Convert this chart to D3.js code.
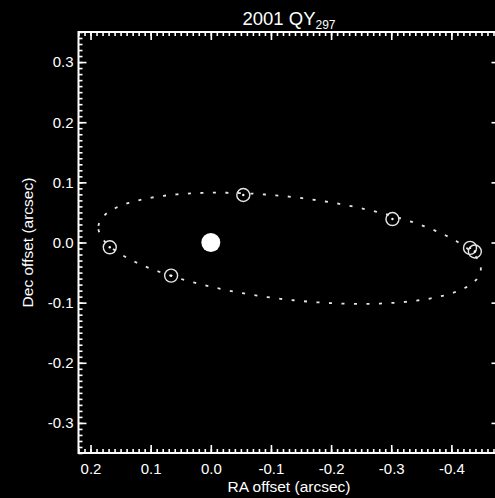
<!DOCTYPE html>
<html>
<head>
<meta charset="utf-8">
<script src="https://cdn.jsdelivr.net/npm/d3@7"></script>
<style>
  html, body { margin: 0; padding: 0; background: #000; }
  svg { display: block; }
  text { font-family: "Liberation Sans", Arial, Helvetica, sans-serif; fill: #fff; }
</style>
</head>
<body>
<svg id="chart" width="495" height="498"></svg>
<script>
// Relative astrometry of the binary 2001 QY297: secondary positions around the primary
const xTicks = [0.2, 0.1, 0.0, -0.1, -0.2, -0.3, -0.4];
const xTickLabels = ["0.2", "0.1", "0.0", "-0.1", "-0.2", "-0.3", "-0.4"];
const yTicks = [-0.3, -0.2, -0.1, 0.0, 0.1, 0.2, 0.3];
const yTickLabels = ["-0.3", "-0.2", "-0.1", "0.0", "0.1", "0.2", "0.3"];

// Observed secondary offsets (arcsec)
const raOffsets  = [0.168, 0.066, -0.054, -0.302, -0.431, -0.439];
const decOffsets = [-0.008, -0.055, 0.079, 0.039, -0.009, -0.015];

// Primary position
const primary = [0.0, 0.0];

// Projected orbit ellipse: centre (RA, Dec), semi-axes (arcsec), tilt (deg)
const orbitCenter = [-0.131, -0.0096];
const orbitSemiAxes = [0.320, 0.0852];
const orbitTilt = 6.67;

const svg = d3.select("#chart");
svg.append("rect").attr("width", 495).attr("height", 498).attr("fill", "#000");

const plotLeft = 78.5, plotRight = 499.5, plotTop = 32, plotBottom = 453;
const x = d3.scaleLinear().domain([0.22, -0.48]).range([plotLeft, plotRight]);
const y = d3.scaleLinear().domain([-0.35, 0.35]).range([plotBottom, plotTop]);

const minorX = d3.range(-48, 23).map(d => d / 100);
const minorY = d3.range(-35, 36).map(d => d / 100);

function styleAxis(g) {
  g.select(".domain").remove();
  g.selectAll(".tick line").attr("stroke", "#fff").attr("stroke-width", 1.6);
  g.selectAll(".tick text")
    .attr("fill", "#fff")
    .style("font-size", "15px")
    .style("font-family", "'Liberation Sans', Arial, Helvetica, sans-serif");
}

// minor ticks on all four sides
svg.append("g").attr("transform", `translate(0,${plotBottom})`)
  .call(d3.axisBottom(x).tickValues(minorX).tickSize(-4).tickFormat(""))
  .call(styleAxis);
svg.append("g").attr("transform", `translate(0,${plotTop})`)
  .call(d3.axisTop(x).tickValues(minorX).tickSize(-4).tickFormat(""))
  .call(styleAxis);
svg.append("g").attr("transform", `translate(${plotLeft},0)`)
  .call(d3.axisLeft(y).tickValues(minorY).tickSize(-4).tickFormat(""))
  .call(styleAxis);
svg.append("g").attr("transform", `translate(${plotRight},0)`)
  .call(d3.axisRight(y).tickValues(minorY).tickSize(-4).tickFormat(""))
  .call(styleAxis);

// major ticks
svg.append("g").attr("transform", `translate(0,${plotBottom})`)
  .call(d3.axisBottom(x).tickValues(xTicks).tickSize(-8).tickPadding(10.5)
    .tickFormat((d, i) => xTickLabels[i]))
  .call(styleAxis);
svg.append("g").attr("transform", `translate(0,${plotTop})`)
  .call(d3.axisTop(x).tickValues(xTicks).tickSize(-8).tickFormat(""))
  .call(styleAxis);
svg.append("g").attr("transform", `translate(${plotLeft},0)`)
  .call(d3.axisLeft(y).tickValues(yTicks).tickSize(-8).tickPadding(5)
    .tickFormat((d, i) => yTickLabels[i]))
  .call(styleAxis);
svg.append("g").attr("transform", `translate(${plotRight},0)`)
  .call(d3.axisRight(y).tickValues(yTicks).tickSize(-8).tickFormat(""))
  .call(styleAxis);

// plot frame
svg.append("rect")
  .attr("x", plotLeft).attr("y", plotTop)
  .attr("width", plotRight - plotLeft).attr("height", plotBottom - plotTop)
  .attr("fill", "none").attr("stroke", "#fff").attr("stroke-width", 2);

// projected orbit, dotted
const phi = orbitTilt * Math.PI / 180;
const orbitPts = d3.range(0, 360, 1).map(t => {
  const a = t * Math.PI / 180;
  const ca = Math.cos(a), sa = Math.sin(a);
  return [
    orbitCenter[0] + orbitSemiAxes[0] * ca * Math.cos(phi) - orbitSemiAxes[1] * sa * Math.sin(phi),
    orbitCenter[1] + orbitSemiAxes[0] * ca * Math.sin(phi) + orbitSemiAxes[1] * sa * Math.cos(phi)
  ];
});
svg.append("path")
  .datum(orbitPts)
  .attr("d", d3.line().x(d => x(d[0])).y(d => y(d[1])).curve(d3.curveLinearClosed))
  .attr("fill", "none")
  .attr("stroke", "#e6e6e6")
  .attr("stroke-width", 1.8)
  .attr("stroke-dasharray", "3 9.5");

// primary
svg.append("circle")
  .attr("cx", x(primary[0])).attr("cy", y(primary[1]))
  .attr("r", 9.5).attr("fill", "#fff");

// secondary positions
const obs = raOffsets.map((ra, i) => ({ ra, dec: decOffsets[i] }));
const pts = svg.append("g").selectAll("g").data(obs).join("g")
  .attr("transform", d => `translate(${x(d.ra)},${y(d.dec)})`);
pts.append("circle").attr("r", 6.5)
  .attr("fill", "none").attr("stroke", "#e6e6e6").attr("stroke-width", 1.4);
pts.append("circle").attr("r", 1.2).attr("fill", "#fff");

// title with subscript designation
const title = svg.append("text")
  .attr("x", (plotLeft + plotRight) / 2).attr("y", 25)
  .attr("text-anchor", "middle")
  .style("font-size", "18.5px");
title.append("tspan").text("2001 QY");
title.append("tspan").attr("dy", 4).style("font-size", "12px").text("297");

// axis titles
svg.append("text")
  .attr("x", (plotLeft + plotRight) / 2).attr("y", 492)
  .attr("text-anchor", "middle")
  .style("font-size", "15.5px")
  .text("RA offset (arcsec)");
svg.append("text")
  .attr("transform", `translate(33,${(plotTop + plotBottom) / 2}) rotate(-90)`)
  .attr("text-anchor", "middle")
  .style("font-size", "15.5px")
  .text("Dec offset (arcsec)");
</script>
</body>
</html>
